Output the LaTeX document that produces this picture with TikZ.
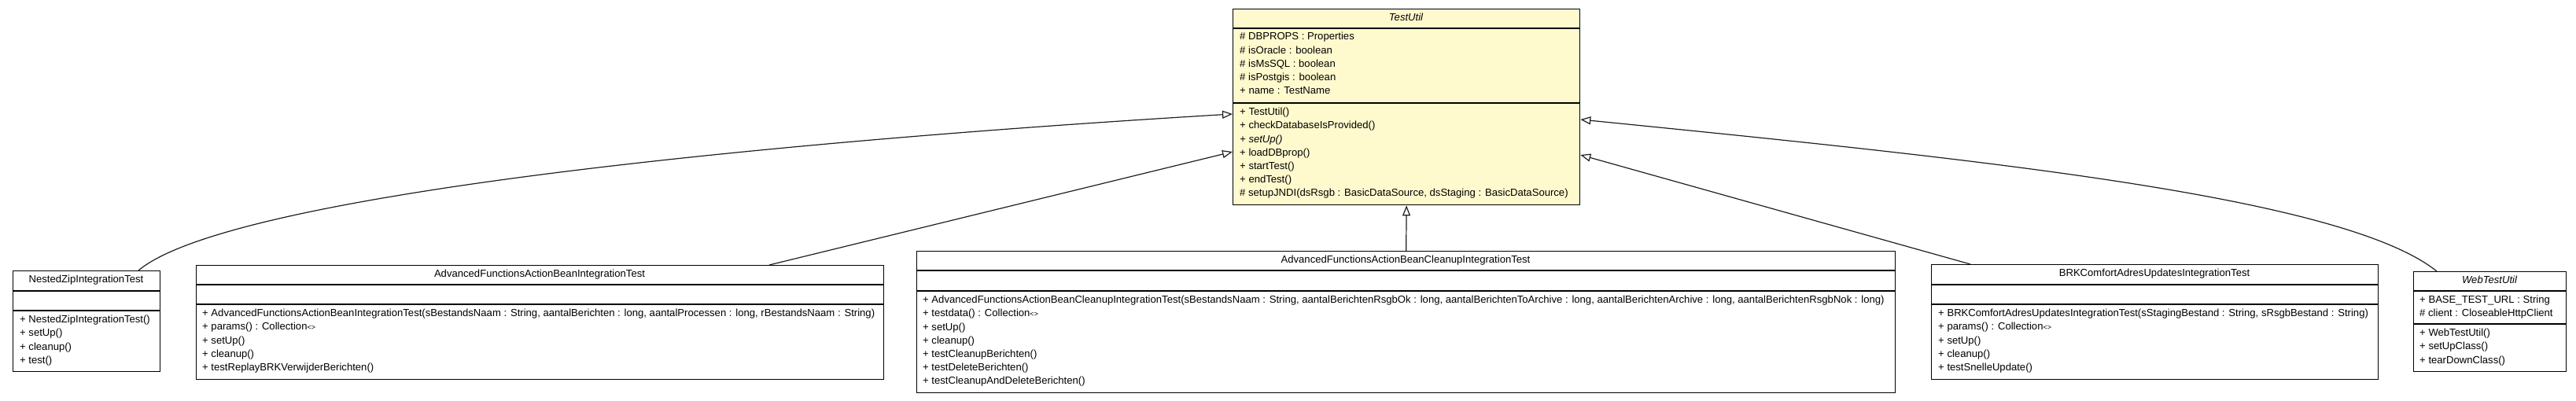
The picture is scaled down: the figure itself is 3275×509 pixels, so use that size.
\documentclass[tikz,border=0pt]{standalone}
\usepackage{fontspec}
\setmainfont{Liberation Sans}
\usetikzlibrary{arrows.meta}
\definecolor{focusfill}{RGB}{255,250,205}
\definecolor{edgecol}{RGB}{30,30,30}
\newcommand{\coll}{Collection{\fontsize{9}{9}\selectfont<>}}
\tikzset{
  classbox/.style={draw=black, line width=1.3pt, inner sep=0pt, fill=white, anchor=north west},
  focusbox/.style={classbox, fill=focusfill},
  member/.style={anchor=mid west, inner sep=0pt, font=\fontsize{13.1}{15}\selectfont},
  ctitle/.style={anchor=mid, inner sep=0pt, font=\fontsize{13.1}{15}\selectfont},
  atitle/.style={ctitle, font=\fontsize{13.1}{15}\selectfont\itshape},
  sepline/.style={draw=black, line width=1.3pt},
  inherit/.style={draw=edgecol, line width=1.2pt, -{Triangle[open, fill=white, length=13pt, width=10pt]}},
}
\begin{document}
\begin{tikzpicture}[x=1pt,y=-1pt]
\useasboundingbox (0,0) rectangle (3275,509);

% ---------- TestUtil ----------
\node[focusbox, minimum width=441pt, minimum height=249pt] (T) at (1567,11) {};
\draw[sepline] ([yshift=-25pt]T.north west) -- ([yshift=-25pt]T.north east);
\draw[sepline] ([yshift=-120pt]T.north west) -- ([yshift=-120pt]T.north east);
\node[atitle] (Tt) at (1787.5,23.5) {TestUtil};
\node[member] (Ta1) at (1576,48.3) {\# DBPROPS : Properties};
\node[member] (Ta2) at (1576,65.5) {\# isOracle : boolean};
\node[member] (Ta3) at (1576,82.7) {\# isMsSQL : boolean};
\node[member] (Ta4) at (1576,99.9) {\# isPostgis : boolean};
\node[member] (Ta5) at (1576,117.1) {+ name : TestName};
\node[member] (Tm1) at (1576,144.0) {+ TestUtil()};
\node[member] (Tm2) at (1576,161.2) {+ checkDatabaseIsProvided()};
\node[member] (Tm3) at (1576,178.4) {\itshape + setUp()};
\node[member] (Tm4) at (1576,195.6) {+ loadDBprop()};
\node[member] (Tm5) at (1576,212.8) {+ startTest()};
\node[member] (Tm6) at (1576,230.0) {+ endTest()};
\node[member] (Tm7) at (1576,247.2) {\# setupJNDI(dsRsgb : BasicDataSource, dsStaging : BasicDataSource)};

% ---------- NestedZipIntegrationTest ----------
\node[classbox, minimum width=187pt, minimum height=128pt] (N) at (16,344) {};
\draw[sepline] ([yshift=-26pt]N.north west) -- ([yshift=-26pt]N.north east);
\draw[sepline] ([yshift=-51pt]N.north west) -- ([yshift=-51pt]N.north east);
\node[ctitle] (Nt) at (109.5,357) {NestedZipIntegrationTest};
\node[member] (Nm1) at (25,408.0) {+ NestedZipIntegrationTest()};
\node[member] (Nm2) at (25,425.2) {+ setUp()};
\node[member] (Nm3) at (25,442.4) {+ cleanup()};
\node[member] (Nm4) at (25,459.6) {+ test()};

% ---------- AdvancedFunctionsActionBeanIntegrationTest ----------
\node[classbox, minimum width=874pt, minimum height=145pt] (A) at (249,337) {};
\draw[sepline] ([yshift=-25pt]A.north west) -- ([yshift=-25pt]A.north east);
\draw[sepline] ([yshift=-50pt]A.north west) -- ([yshift=-50pt]A.north east);
\node[ctitle] (At) at (686,349.5) {AdvancedFunctionsActionBeanIntegrationTest};
\node[member] (Am1) at (257,400.0) {+ AdvancedFunctionsActionBeanIntegrationTest(sBestandsNaam : String, aantalBerichten : long, aantalProcessen : long, rBestandsNaam : String)};
\node[member] (Am2) at (257,417.2) {+ params() : \coll};
\node[member] (Am3) at (257,434.4) {+ setUp()};
\node[member] (Am4) at (257,451.6) {+ cleanup()};
\node[member] (Am5) at (257,468.8) {+ testReplayBRKVerwijderBerichten()};

% ---------- AdvancedFunctionsActionBeanCleanupIntegrationTest ----------
\node[classbox, minimum width=1244pt, minimum height=180pt] (C) at (1165,319) {};
\draw[sepline] ([yshift=-25pt]C.north west) -- ([yshift=-25pt]C.north east);
\draw[sepline] ([yshift=-51pt]C.north west) -- ([yshift=-51pt]C.north east);
\node[ctitle] (Ct) at (1787,331.5) {AdvancedFunctionsActionBeanCleanupIntegrationTest};
\node[member] (Cm1) at (1173,383.0) {+ AdvancedFunctionsActionBeanCleanupIntegrationTest(sBestandsNaam : String, aantalBerichtenRsgbOk : long, aantalBerichtenToArchive : long, aantalBerichtenArchive : long, aantalBerichtenRsgbNok : long)};
\node[member] (Cm2) at (1173,400.2) {+ testdata() : \coll};
\node[member] (Cm3) at (1173,417.4) {+ setUp()};
\node[member] (Cm4) at (1173,434.6) {+ cleanup()};
\node[member] (Cm5) at (1173,451.8) {+ testCleanupBerichten()};
\node[member] (Cm6) at (1173,469.0) {+ testDeleteBerichten()};
\node[member] (Cm7) at (1173,486.2) {+ testCleanupAndDeleteBerichten()};

% ---------- BRKComfortAdresUpdatesIntegrationTest ----------
\node[classbox, minimum width=568pt, minimum height=146pt] (B) at (2455,336) {};
\draw[sepline] ([yshift=-26pt]B.north west) -- ([yshift=-26pt]B.north east);
\draw[sepline] ([yshift=-51pt]B.north west) -- ([yshift=-51pt]B.north east);
\node[ctitle] (Bt) at (2739,349) {BRKComfortAdresUpdatesIntegrationTest};
\node[member] (Bm1) at (2464,400.0) {+ BRKComfortAdresUpdatesIntegrationTest(sStagingBestand : String, sRsgbBestand : String)};
\node[member] (Bm2) at (2464,417.2) {+ params() : \coll};
\node[member] (Bm3) at (2464,434.4) {+ setUp()};
\node[member] (Bm4) at (2464,451.6) {+ cleanup()};
\node[member] (Bm5) at (2464,468.8) {+ testSnelleUpdate()};

% ---------- WebTestUtil ----------
\node[classbox, minimum width=194pt, minimum height=127pt] (W) at (3068,345) {};
\draw[sepline] ([yshift=-25pt]W.north west) -- ([yshift=-25pt]W.north east);
\draw[sepline] ([yshift=-67pt]W.north west) -- ([yshift=-67pt]W.north east);
\node[atitle] (Wt) at (3165,357.5) {WebTestUtil};
\node[member] (Wa1) at (3076,383.0) {+ BASE\_TEST\_URL : String};
\node[member] (Wa2) at (3076,400.2) {\# client : CloseableHttpClient};
\node[member] (Wm1) at (3076,425.0) {+ WebTestUtil()};
\node[member] (Wm2) at (3076,442.2) {+ setUpClass()};
\node[member] (Wm3) at (3076,459.4) {+ tearDownClass()};

% ---------- generalizations ----------
\draw[inherit] ([xshift=160pt]N.north west) .. controls (290,248) and (967,181) .. ([yshift=-134pt]T.north west);
\draw[inherit] ([xshift=729pt]A.north west) -- ([yshift=-182pt]T.north west);
\draw[inherit] (C.north) -- (T.south);
\draw[inherit] ([xshift=50pt]B.north west) -- ([yshift=-186pt]T.north east);
\draw[inherit] ([xshift=30pt]W.north west) .. controls (2978,249) and (2508,202) .. ([yshift=-141pt]T.north east);
\end{tikzpicture}
\end{document}
